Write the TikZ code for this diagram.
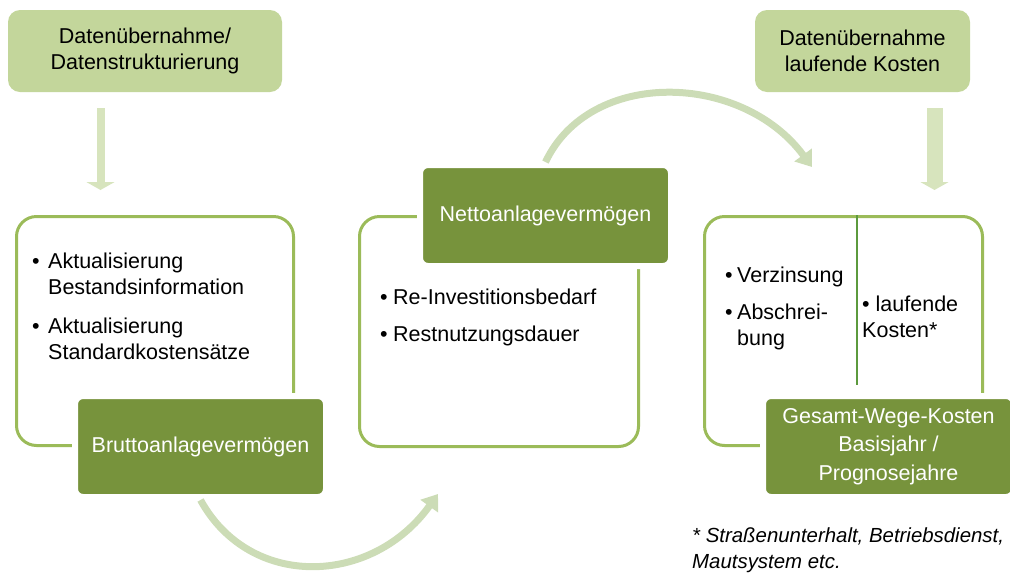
\documentclass[tikz,border=0pt]{standalone}
\usepackage{fontspec}
\setmainfont{Liberation Sans}
\usepackage{tikz}
\usetikzlibrary{arrows.meta,positioning}

\definecolor{lightbox}{HTML}{C3D69B}
\definecolor{lightarrow}{HTML}{D7E4BD}
\definecolor{curvegreen}{HTML}{CCDCB6}
\definecolor{boxdark}{HTML}{77933C}
\definecolor{framegreen}{HTML}{9BBB59}
\definecolor{splitgreen}{HTML}{5C9A3E}

\begin{document}
\begin{tikzpicture}[x=1pt,y=-1pt,
    txt/.style={font=\fontsize{21.5}{26}\selectfont},
    topbox/.style={txt, fill=lightbox, rounded corners=12pt, minimum height=82pt, align=center},
    framebox/.style={draw=framegreen, line width=3pt, fill=white, rounded corners=20pt},
    darkbox/.style={txt, text=white, fill=boxdark, draw=white, line width=6pt, rounded corners=8pt,
        minimum width=251pt, minimum height=101pt, align=center},
    listtext/.style={txt, anchor=base west, inner sep=0pt},
    downarrow/.style={lightarrow, -{Triangle[width=28pt,length=8pt]}},
    curvearrow/.style={curvegreen, line width=7pt, -{Triangle[width=21pt,length=15pt]}}
]
    \useasboundingbox (0,0) rectangle (1010,574);

    % Data input boxes
    \node[topbox, minimum width=274pt] (datenL) at (145,51) {Datenübernahme/\\Datenstrukturierung};
    \node[topbox, minimum width=215pt] (datenR) at (862.5,51) {Datenübernahme\\laufende Kosten};

    % Frames
    \node[framebox, minimum width=277pt, minimum height=229pt] (bruttoFrame) at (155,331) {};
    \node[framebox, minimum width=279pt, minimum height=230pt] (nettoFrame) at (499,331.5) {};
    \node[framebox, minimum width=278pt, minimum height=229pt] (kostenFrame) at (843.5,331) {};

    % Split line in the cost frame
    \coordinate (splitEnd) at (857,385);
    \draw[splitgreen, line width=1.5pt] (kostenFrame.north -| splitEnd) -- (splitEnd);

    % Frame contents
    \node[listtext] (bruttoList) at (32,268) {%
        \begin{tabular}[t]{@{}p{16pt}@{}l@{}}
        \textbullet & Aktualisierung\\
                    & Bestandsinformation\\[13pt]
        \textbullet & Aktualisierung\\
                    & Standardkostensätze
        \end{tabular}};
    \node[listtext] (nettoList) at (380,304) {%
        \begin{tabular}[t]{@{}p{13pt}@{}l@{}}
        \textbullet & Re-Investitionsbedarf\\[11pt]
        \textbullet & Restnutzungsdauer
        \end{tabular}};
    \node[listtext] (kapitalList) at (725,282) {%
        \begin{tabular}[t]{@{}p{12pt}@{}l@{}}
        \textbullet & Verzinsung\\[11pt]
        \textbullet & Abschrei-\\
                    & bung
        \end{tabular}};
    \node[listtext] (laufendList) at (862,311) {%
        \begin{tabular}[t]{@{}l@{}}
        \textbullet\ laufende\\
        Kosten*
        \end{tabular}};

    % Result boxes
    \node[darkbox] (brutto) at (200.5,446.5) {Bruttoanlagevermögen};
    \node[darkbox] (netto) at (545.5,215.5) {Nettoanlagevermögen};
    \node[darkbox, font=\fontsize{21.5}{28.5}\selectfont] (gesamt) at (888.5,446.5)
        {Gesamt-Wege-Kosten\\Basisjahr /\\Prognosejahre};

    % Input arrows
    \coordinate (inL) at (100.5,190);
    \coordinate (inR) at (934.5,190);
    \draw[downarrow, line width=8pt, shorten <=16pt] (datenL.south -| inL) -- (inL);
    \draw[downarrow, line width=16pt, shorten <=16pt] (datenR.south -| inR) -- (inR);

    % Flow arrows
    \coordinate (nettoIn) at (438,494);
    \coordinate (kostenIn) at (812,167);
    \draw[curvearrow] (brutto.south) .. controls (250,590) and (372,586) .. (nettoIn);
    \draw[curvearrow] (netto.north) .. controls (590,68) and (742,72) .. (kostenIn);

    % Footnote
    \node[txt, anchor=west, inner sep=0pt, align=left, font=\fontsize{20.4}{26}\selectfont\itshape] (note) at (692,550)
        {* Straßenunterhalt, Betriebsdienst,\\Mautsystem etc.};
\end{tikzpicture}
\end{document}
